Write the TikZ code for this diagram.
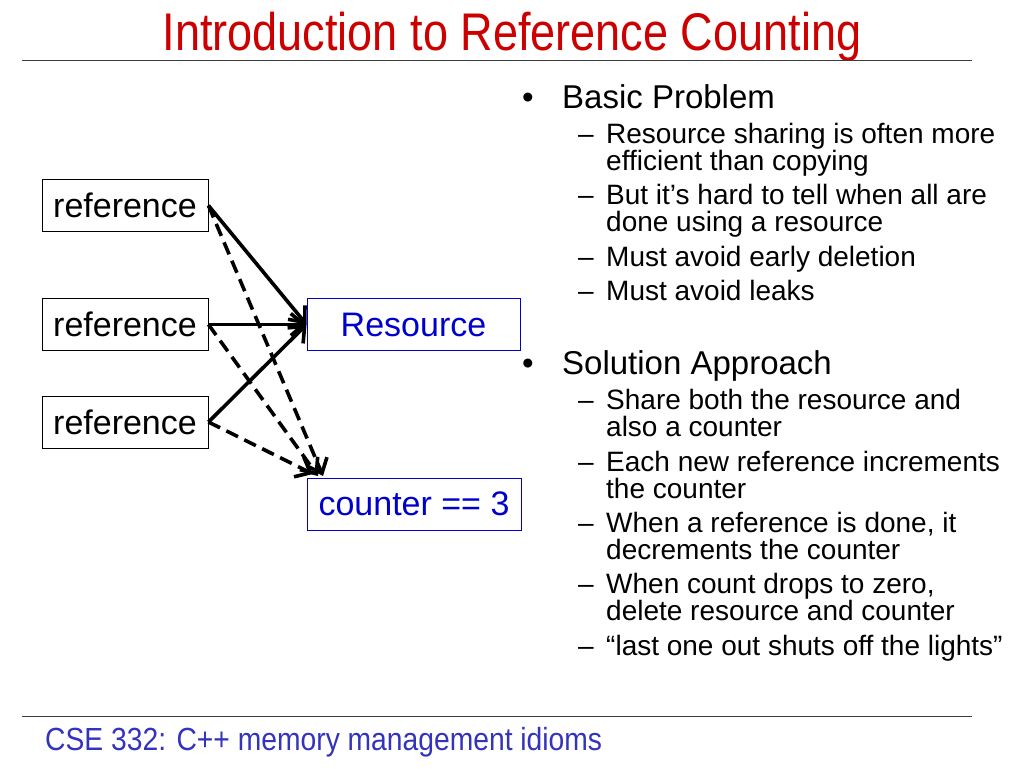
\documentclass[tikz,border=0pt]{standalone}
\usepackage{fontspec}
\setmainfont{Liberation Sans}
\usetikzlibrary{arrows.meta,calc}
\definecolor{titlered}{RGB}{204,0,0}
\definecolor{footblue}{RGB}{51,51,187}
\definecolor{resblue}{RGB}{0,0,204}
\definecolor{rulegray}{RGB}{60,60,60}
\newcommand\fsz[1]{\fontsize{#1}{#1}\selectfont}
\tikzset{
  refbox/.style={draw=black, line width=0.9pt, minimum width=166, minimum height=52, inner sep=0pt, font=\fsz{34}},
  bluebox/.style={draw=resblue, line width=0.9pt, minimum width=214, minimum height=52, inner sep=0pt, font=\fsz{34}, text=resblue},
  conn/.style={line width=3.6pt, -{Straight Barb[length=13pt,width=22pt]}},
  dconn/.style={conn, dash pattern=on 13pt off 7pt},
  top/.style={anchor=base west, font=\fsz{33}, inner sep=0pt},
  sub/.style={anchor=base west, font=\fsz{28}, inner sep=0pt},
  rule/.style={line width=1pt, draw=rulegray}
}
\begin{document}
\begin{tikzpicture}[x=1pt,y=-1pt]
\useasboundingbox (0,0) rectangle (1024,768);
% title
\node[anchor=base, text=titlered, font=\fsz{53}, inner sep=0pt] (title) at (512,50) {\scalebox{0.85}[1]{Introduction to Reference Counting}};
\draw[rule] (22,60) -- (972,60);
% footer
\draw[rule] (22,716) -- (972,716);
\node[anchor=base west, text=footblue, font=\fsz{32}, inner sep=0pt] (foot) at (45,750) {\scalebox{0.883}[1]{CSE 332: C++ memory management idioms}};
% left diagram
\node[refbox] (r1) at (125,205.5) {reference};
\node[refbox] (r2) at (125,324.5) {reference};
\node[refbox] (r3) at (125,422) {reference};
\node[bluebox, minimum width=213] (res) at (413.5,324.5) {Resource};
\node[bluebox] (cnt) at (414,504) {counter == 3};
\coordinate (d1) at (323,476);
\coordinate (d2) at (318,476);
\coordinate (d3) at (313,474);
\draw[conn] (r1.east) -- (res.west);
\draw[conn] (r2.east) -- (res.west);
\draw[conn] (r3.east) -- (res.west);
\draw[dconn] (r1.east) -- (d1);
\draw[dconn] (r2.east) -- (d2);
\draw[dconn] (r3.east) -- (d3);
% right column
\node[top] (bp) at (522,108) {•};
\node[top] (bpt) at (562,108) {Basic Problem};
\node[sub] (da1) at (578,143) {–};
\node[sub] (a1) at (606,143) {Resource sharing is often more};
\node[sub] (a1b) at (606,170) {efficient than copying};
\node[sub] (da2) at (578,204) {–};
\node[sub] (a2) at (606,204) {But it’s hard to tell when all are};
\node[sub] (a2b) at (606,231) {done using a resource};
\node[sub] (da3) at (578,266) {–};
\node[sub] (a3) at (606,266) {Must avoid early deletion};
\node[sub] (da4) at (578,300) {–};
\node[sub] (a4) at (606,300) {Must avoid leaks};
\node[top] (sp) at (522,374) {•};
\node[top] (spt) at (562,374) {Solution Approach};
\node[sub] (db1) at (578,409) {–};
\node[sub] (b1) at (606,409) {Share both the resource and};
\node[sub] (b1b) at (606,436) {also a counter};
\node[sub] (db2) at (578,471) {–};
\node[sub] (b2) at (606,471) {Each new reference increments};
\node[sub] (b2b) at (606,498) {the counter};
\node[sub] (db3) at (578,532) {–};
\node[sub] (b3) at (606,532) {When a reference is done, it};
\node[sub] (b3b) at (606,559) {decrements the counter};
\node[sub] (db4) at (578,593) {–};
\node[sub] (b4) at (606,593) {When count drops to zero,};
\node[sub] (b4b) at (606,620) {delete resource and counter};
\node[sub] (db5) at (578,655) {–};
\node[sub] (b5) at (606,655) {“last one out shuts off the lights”};
\end{tikzpicture}
\end{document}
